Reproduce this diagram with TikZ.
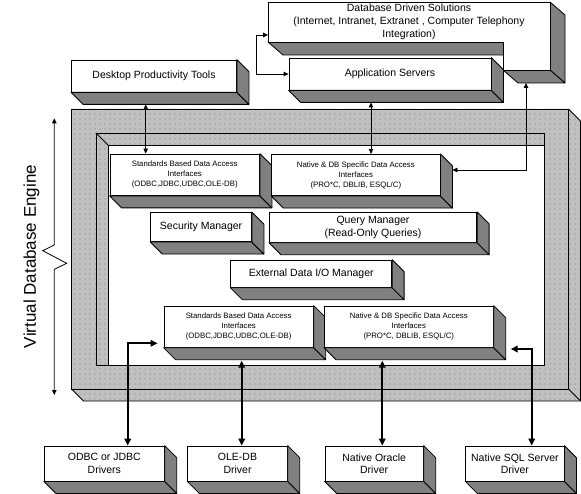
\documentclass[tikz,border=0pt]{standalone}
\usepackage{fontspec}
\setmainfont{Liberation Sans}
\usetikzlibrary{arrows.meta,calc,patterns.meta}
\definecolor{extgray}{HTML}{808080}
\definecolor{framegray}{HTML}{C0C0C0}
\tikzset{
  box/.style={draw, fill=white, line width=0.8pt, inner sep=0pt, align=center,
    font=\fontsize{10.5}{12.5}\selectfont},
  smallbox/.style={box, font=\fontsize{7.8}{10}\selectfont},
  extr/.style={draw, fill=extgray, line width=0.8pt, line join=round},
  dotted area/.style={pattern={Dots[distance=5pt,radius=0.4pt]}},
  con/.style={line width=0.8pt, {Triangle[length=5pt,width=4.5pt]}-{Triangle[length=5pt,width=4.5pt]}},
  bcon/.style={line width=2pt, {Triangle[length=7pt,width=6.5pt]}-{Triangle[length=7pt,width=6.5pt]}},
}
\newcommand\solidbox[1]{%
  \filldraw[extr] (#1.south west) -- (#1.south east) -- ($(#1.south east)+(12,12)$) -- ($(#1.south west)+(12,12)$) -- cycle;
  \filldraw[extr] (#1.south east) -- (#1.north east) -- ($(#1.north east)+(12,12)$) -- ($(#1.south east)+(12,12)$) -- cycle;
}
\begin{document}
\begin{tikzpicture}[x=1pt,y=-1pt]
\useasboundingbox (0,0) rectangle (581,494);

% ---------- Virtual database engine frame ----------
% outer extrusion
\fill[framegray] (71.5,389) -- (568.5,389) -- (580.5,401) -- (83.5,401) -- cycle;
\fill[framegray] (568.5,109) -- (580.5,121) -- (580.5,401) -- (568.5,389) -- cycle;
\fill[dotted area] (71.5,389) -- (568.5,389) -- (580.5,401) -- (83.5,401) -- cycle;
\fill[dotted area] (568.5,109) -- (580.5,121) -- (580.5,401) -- (568.5,389) -- cycle;
\draw[line width=0.8pt, line join=round] (71.5,389) -- (83.5,401) -- (580.5,401) -- (580.5,121) -- (568.5,109);
\draw[line width=0.8pt] (568.5,389) -- (580.5,401);
% front ring
\fill[framegray, even odd rule] (71.5,109) rectangle (568.5,389) (96,133) rectangle (544.5,365);
\fill[dotted area, even odd rule] (71.5,109) rectangle (568.5,389) (96,133) rectangle (544.5,365);
% inner walls
\fill[framegray] (96,133) -- (544.5,133) -- (544.5,145) -- (108,145) -- (108,365) -- (96,365) -- cycle;
\fill[dotted area] (96,133) -- (544.5,133) -- (544.5,145) -- (108,145) -- (108,365) -- (96,365) -- cycle;
\draw[line width=0.8pt] (71.5,109) rectangle (568.5,389);
\draw[line width=0.8pt] (96,133) rectangle (544.5,365);
\draw[line width=0.8pt] (544.5,145) -- (108,145) -- (108,365);
\draw[line width=0.8pt] (96,133) -- (108,145);

% ---------- Database Driven Solutions (L-shaped) ----------
\filldraw[extr] (268,42) -- (503,42) -- (518,55) -- (283,55) -- cycle;
\filldraw[extr] (550,2) -- (550,70) -- (565,83) -- (565,15) -- cycle;
\filldraw[extr] (503,70) -- (550,70) -- (565,83) -- (518,83) -- cycle;
\filldraw[fill=white, line width=0.8pt, line join=round] (268,2) -- (550,2) -- (550,70) -- (503,70) -- (503,42) -- (268,42) -- cycle;
\node[align=center, inner sep=0pt, font=\fontsize{10.5}{13}\selectfont] (dds) at (409,21.5)
  {Database Driven Solutions\\(Internet, Intranet, Extranet , Computer Telephony\\Integration)};
\coordinate (ddsb) at (526,83);
\coordinate (ddsl) at (268,35);

% ---------- Top boxes ----------
\node[box, minimum width=202pt, minimum height=32pt] (apps) at (390,74) {Application Servers};
\solidbox{apps}
\node[box, minimum width=165pt, minimum height=32pt] (desk) at (154,76) {Desktop Productivity Tools};
\solidbox{desk}

% ---------- Inner boxes ----------
\node[smallbox, minimum width=149.5pt, minimum height=41.5pt] (stdt) at (184.75,174.75)
  {Standards Based Data Access\\Interfaces\\(ODBC,JDBC,UDBC,OLE-DB)};
\solidbox{stdt}
\node[smallbox, minimum width=168.3pt, minimum height=41.4pt] (natt) at (355.85,175)
  {Native \& DB Specific Data Access\\Interfaces\\(PRO*C, DBLIB, ESQL/C)};
\solidbox{natt}
\node[box, minimum width=100.8pt, minimum height=29.2pt] (sec) at (201.1,227.1) {Security Manager};
\solidbox{sec}
\node[box, minimum width=207.4pt, minimum height=30pt] (qry) at (373,227.3) {Query Manager\\(Read-Only Queries)};
\solidbox{qry}
\node[box, minimum width=161pt, minimum height=27.3pt] (ext) at (311.2,273.65) {External Data I/O Manager};
\solidbox{ext}
\node[smallbox, minimum width=149.3pt, minimum height=41.3pt] (stdb) at (238.65,326.65)
  {Standards Based Data Access\\Interfaces\\(ODBC,JDBC,UDBC,OLE-DB)};
\solidbox{stdb}
\node[smallbox, minimum width=169pt, minimum height=41.3pt] (natb) at (408.8,326.65)
  {Native \& DB Specific Data Access\\Interfaces\\(PRO*C, DBLIB, ESQL/C)};
\solidbox{natb}

% ---------- Drivers ----------
\node[box, minimum width=120pt, minimum height=35pt] (odbc) at (104.3,463.5) {ODBC or JDBC\\Drivers};
\solidbox{odbc}
\node[box, minimum width=99.6pt, minimum height=35pt] (ole) at (237.5,463.5) {OLE-DB\\Driver};
\solidbox{ole}
\node[box, minimum width=98.3pt, minimum height=35pt] (ora) at (374.15,463.5) {Native Oracle\\Driver};
\solidbox{ora}
\node[box, minimum width=98.3pt, minimum height=35pt] (sql) at (514.85,463.5) {Native SQL Server\\Driver};
\solidbox{sql}

% ---------- Virtual Database Engine label ----------
\coordinate (vt) at (54.3,118.3);
\coordinate (vb) at (54.3,395);
\draw[con, line join=miter] (vt) -- (54.3,245) -- (42.7,250.7) -- (66.7,263.3) -- (54.3,269.3) -- (vb);
\node[rotate=90, font=\fontsize{17}{20}\selectfont, inner sep=0pt] (vde) at (31.5,256.5) {Virtual Database Engine};

% ---------- Connectors ----------
\draw[con] (stdt.north -| 145.7,0) -- ($(desk.south -| 145.7,0)+(0,12)$);
\draw[con] (natt.north -| 371,0) -- ($(apps.south -| 371,0)+(0,12)$);
\draw[con] (ddsb) |- ($(natt.east |- 0,170)+(12,0)$);
\draw[con] (ddsl) -- ++(-12,0) |- (apps.west);

\draw[bcon] (odbc.north -| 127.7,0) |- ($(stdb.west |- 0,343.3)+(-6,0)$);
\draw[bcon] (ole.north -| 241.7,0) -- ($(stdb.south -| 241.7,0)+(0,13)$);
\draw[bcon] (ora.north -| 382.3,0) -- ($(natb.south -| 382.3,0)+(0,13)$);
\draw[bcon] (sql.north -| 531.7,0) |- ($(natb.east |- 0,349)+(17,0)$);
\end{tikzpicture}
\end{document}
